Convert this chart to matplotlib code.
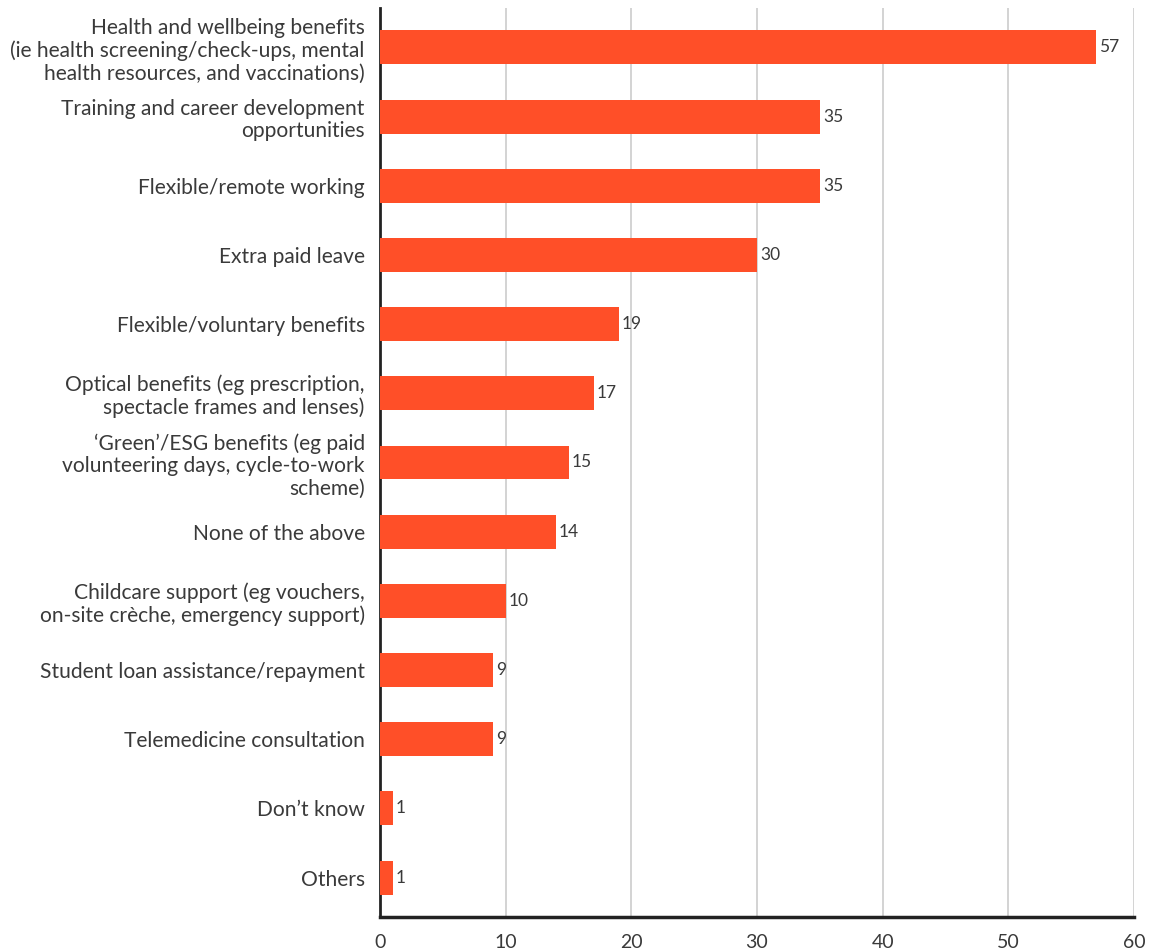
import numpy as np
import matplotlib.pyplot as plt

plt.rcParams['font.family'] = ['Lato', 'DejaVu Sans']

categories = [
    'Health and wellbeing benefits\n(ie health screening/check-ups, mental\nhealth resources, and vaccinations)',
    'Training and career development\nopportunities',
    'Flexible/remote working',
    'Extra paid leave',
    'Flexible/voluntary benefits',
    'Optical benefits (eg prescription,\nspectacle frames and lenses)',
    '\u2018Green\u2019/ESG benefits (eg paid\nvolunteering days, cycle-to-work\nscheme)',
    'None of the above',
    'Childcare support (eg vouchers,\non-site cr\u00e8che, emergency support)',
    'Student loan assistance/repayment',
    'Telemedicine consultation',
    'Don\u2019t know',
    'Others',
]
values = [57, 35, 35, 30, 19, 17, 15, 14, 10, 9, 9, 1, 1]
xticks = [0, 10, 20, 30, 40, 50, 60]

bar_color = '#FF4F28'
text_color = '#3a3a3a'

fig = plt.figure(figsize=(11.54, 9.51), dpi=100)
ax = fig.add_axes([380 / 1154, 34 / 951, 754 / 1154, 909 / 951])

y = np.arange(len(categories))
ax.barh(y, values, height=0.49, color=bar_color, zorder=3)
for yi, v in zip(y, values):
    ax.text(v + 0.25, yi, str(v), va='center', ha='left', fontsize=12.5,
            color=text_color)

ax.set_xlim(0, 60)
ax.set_ylim(len(categories) - 0.43, -0.57)
ax.set_xticks(xticks)
ax.set_xticklabels([str(t) for t in xticks], fontsize=14, color=text_color)
ax.set_yticks(y)
ax.set_yticklabels(categories, fontsize=15.1, color=text_color, linespacing=1.15)
ax.tick_params(axis='x', length=0, pad=12)
ax.tick_params(axis='y', length=0, pad=11)

ax.grid(axis='x', color='#cccccc', linewidth=1.2, zorder=0)
for side in ['top', 'right']:
    ax.spines[side].set_visible(False)
ax.spines['left'].set_color('#222222')
ax.spines['left'].set_linewidth(2)
ax.spines['bottom'].set_color('#222222')
ax.spines['bottom'].set_linewidth(2.5)

fig.savefig('out.png', dpi=100)
